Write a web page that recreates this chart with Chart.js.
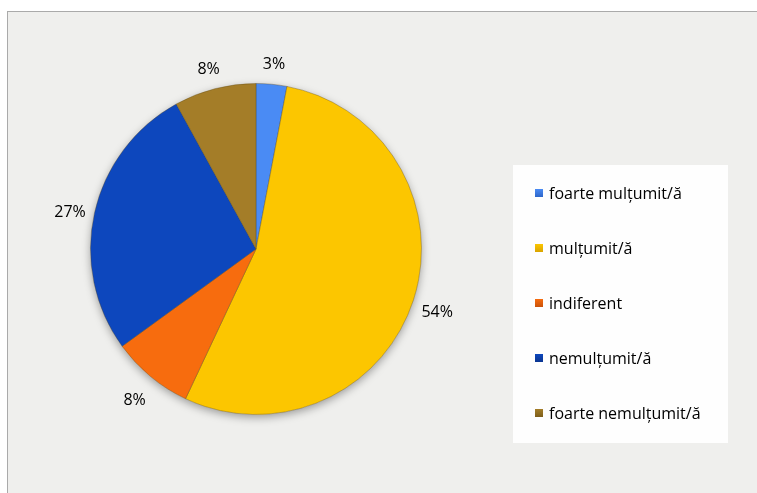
<!DOCTYPE html>
<html lang="ro">
<head>
    <meta charset="UTF-8">
    <title>Grad de mulțumire</title>
    <script src="https://cdn.jsdelivr.net/npm/chart.js"></script>
    <style>
        body { margin: 0; background: #fff; width: 757px; height: 493px; overflow: hidden; position: relative; }
        .frame { position: absolute; left: 7px; top: 11px; width: 760px; height: 490px; border: 1px solid #aaa; background: #efefed; }
        .frame canvas { position: absolute; left: 0; top: 0; }
    </style>
</head>
<body>
    <div class="frame"><canvas id="pie" width="749" height="481"></canvas></div>

    <script>
        const labels = ['foarte mulțumit/ă', 'mulțumit/ă', 'indiferent', 'nemulțumit/ă', 'foarte nemulțumit/ă'];
        const values = [3, 54, 8, 27, 8];
        const colors = ['#4a8bf4', '#fcc600', '#f76c0e', '#0d47bd', '#a47d28'];
        const rims = ['#2d66c9', '#d9a400', '#c9520a', '#0a3590', '#7d5e1a'];

        const font = '16px "Open Sans", sans-serif';

        // soft shadow under the pie
        const pieShadow = {
            id: 'pieShadow',
            beforeDatasetsDraw(chart) {
                const arc = chart.getDatasetMeta(0).data[0];
                if (!arc) return;
                const { x, y, outerRadius } = arc.getProps(['x', 'y', 'outerRadius'], true);
                const ctx = chart.ctx;
                ctx.save();
                ctx.shadowColor = 'rgba(0,0,0,0.35)';
                ctx.shadowBlur = 8;
                ctx.shadowOffsetY = 3;
                ctx.beginPath();
                ctx.arc(x, y, outerRadius, 0, Math.PI * 2);
                ctx.fillStyle = '#e0e0e0';
                ctx.fill();
                ctx.restore();
            }
        };

        // percentage labels outside the slices
        const outLabels = {
            id: 'outLabels',
            afterDatasetsDraw(chart) {
                const ctx = chart.ctx;
                ctx.save();
                ctx.font = font;
                ctx.fillStyle = '#000';
                ctx.textAlign = 'center';
                ctx.textBaseline = 'middle';
                chart.getDatasetMeta(0).data.forEach((arc, i) => {
                    const p = arc.getProps(['x', 'y', 'startAngle', 'endAngle', 'outerRadius'], true);
                    const mid = (p.startAngle + p.endAngle) / 2;
                    const r = p.outerRadius + 25;
                    ctx.fillText(values[i] + '%', p.x + Math.cos(mid) * r, p.y + Math.sin(mid) * r + 5);
                });
                ctx.restore();
            }
        };

        // legend in a white box on the right
        const boxLegend = {
            id: 'boxLegend',
            afterDraw(chart) {
                const ctx = chart.ctx;
                ctx.save();
                ctx.fillStyle = '#fefefe';
                ctx.fillRect(505, 153, 215, 278);
                ctx.font = font;
                ctx.textBaseline = 'middle';
                labels.forEach((lab, i) => {
                    const y = 181 + i * 55;
                    const g = ctx.createLinearGradient(0, y - 4, 0, y + 4);
                    g.addColorStop(0, colors[i]);
                    g.addColorStop(1, rims[i]);
                    ctx.fillStyle = g;
                    ctx.fillRect(527, y - 4, 8, 8);
                    ctx.fillStyle = '#000';
                    ctx.fillText(lab, 541, y + 1);
                });
                ctx.restore();
            }
        };

        function sliceFill(c) {
            const i = c.dataIndex;
            const arc = c.element;
            if (!arc || !arc.outerRadius) return colors[i];
            const g = c.chart.ctx.createRadialGradient(arc.x, arc.y, 0, arc.x, arc.y, arc.outerRadius);
            g.addColorStop(0, colors[i]);
            g.addColorStop(0.9, colors[i]);
            g.addColorStop(1, rims[i]);
            return g;
        }

        new Chart(document.getElementById('pie'), {
            type: 'pie',
            data: {
                labels: labels,
                datasets: [{
                    data: values,
                    backgroundColor: sliceFill,
                    borderColor: 'rgba(90,70,20,0.35)',
                    borderWidth: 1,
                    hoverOffset: 0
                }]
            },
            options: {
                responsive: false,
                animation: false,
                layout: { padding: { left: 81, right: 334, top: 71, bottom: 78 } },
                plugins: {
                    legend: { display: false },
                    tooltip: { enabled: false }
                }
            },
            plugins: [pieShadow, outLabels, boxLegend]
        });
    </script>
</body>
</html>
